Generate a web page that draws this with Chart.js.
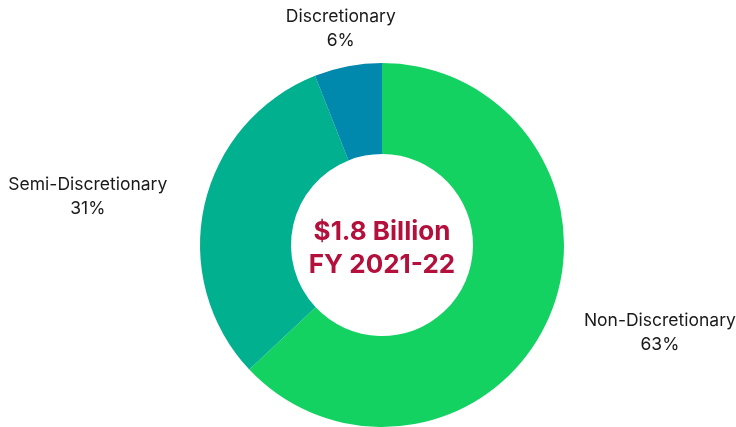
<!DOCTYPE html>
<html>
<head>
<meta charset="utf-8">
<script src="https://cdn.jsdelivr.net/npm/chart.js@4"></script>
<style>
html,body{margin:0;padding:0;background:#fff;}
#wrap{width:736px;height:427px;position:relative;}
</style>
</head>
<body>
<div id="wrap"><canvas id="c" width="736" height="427"></canvas></div>
<script>
const categories = ["Non-Discretionary", "Semi-Discretionary", "Discretionary"];
const shares = [63, 31, 6];
const colors = ["#14D261", "#00B08F", "#0088AD"];
const centerLines = ["$1.8 Billion", "FY 2021-22"];

const FONT = "Inter, 'DejaVu Sans', sans-serif";

const outerLabels = {
  id: 'outerLabels',
  afterDraw(chart) {
    const ctx = chart.ctx;
    const meta = chart.getDatasetMeta(0);
    ctx.save();
    ctx.font = "400 17.5px " + FONT;
    ctx.fillStyle = "#1a1a1a";
    ctx.textBaseline = "middle";
    meta.data.forEach((arc, i) => {
      const p = arc.getProps(['x','y','startAngle','endAngle','outerRadius'], true);
      const mid = (p.startAngle + p.endAngle) / 2;
      const r = p.outerRadius + 38;
      const x = p.x + Math.cos(mid) * r;
      const y = p.y + Math.sin(mid) * r;
      const c = Math.cos(mid);
      ctx.textAlign = c > 0.5 ? 'left' : (c < -0.5 ? 'right' : 'center');
      ctx.fillText(categories[i], x, y - 12);
      ctx.textAlign = 'center';
      let w = ctx.measureText(categories[i]).width;
      let cx = c > 0.5 ? x + w/2 : (c < -0.5 ? x - w/2 : x);
      ctx.fillText(shares[i] + "%", cx, y + 12);
    });
    // center text
    const a = meta.data[0];
    ctx.font = "700 26px " + FONT;
    ctx.fillStyle = "#B3103C";
    ctx.textAlign = 'center';
    ctx.fillText(centerLines[0], a.x, a.y - 13);
    ctx.fillText(centerLines[1], a.x, a.y + 20);
    ctx.restore();
  }
};

new Chart(document.getElementById('c'), {
  type: 'doughnut',
  data: {
    labels: categories,
    datasets: [{
      data: shares,
      backgroundColor: colors,
      borderWidth: 0
    }]
  },
  options: {
    responsive: false,
    animation: false,
    cutout: '50%',
    layout: { padding: { top: 63, bottom: 0, left: 200, right: 172 } },
    plugins: { legend: { display: false }, tooltip: { enabled: false } }
  },
  plugins: [outerLabels]
});
</script>
</body>
</html>
